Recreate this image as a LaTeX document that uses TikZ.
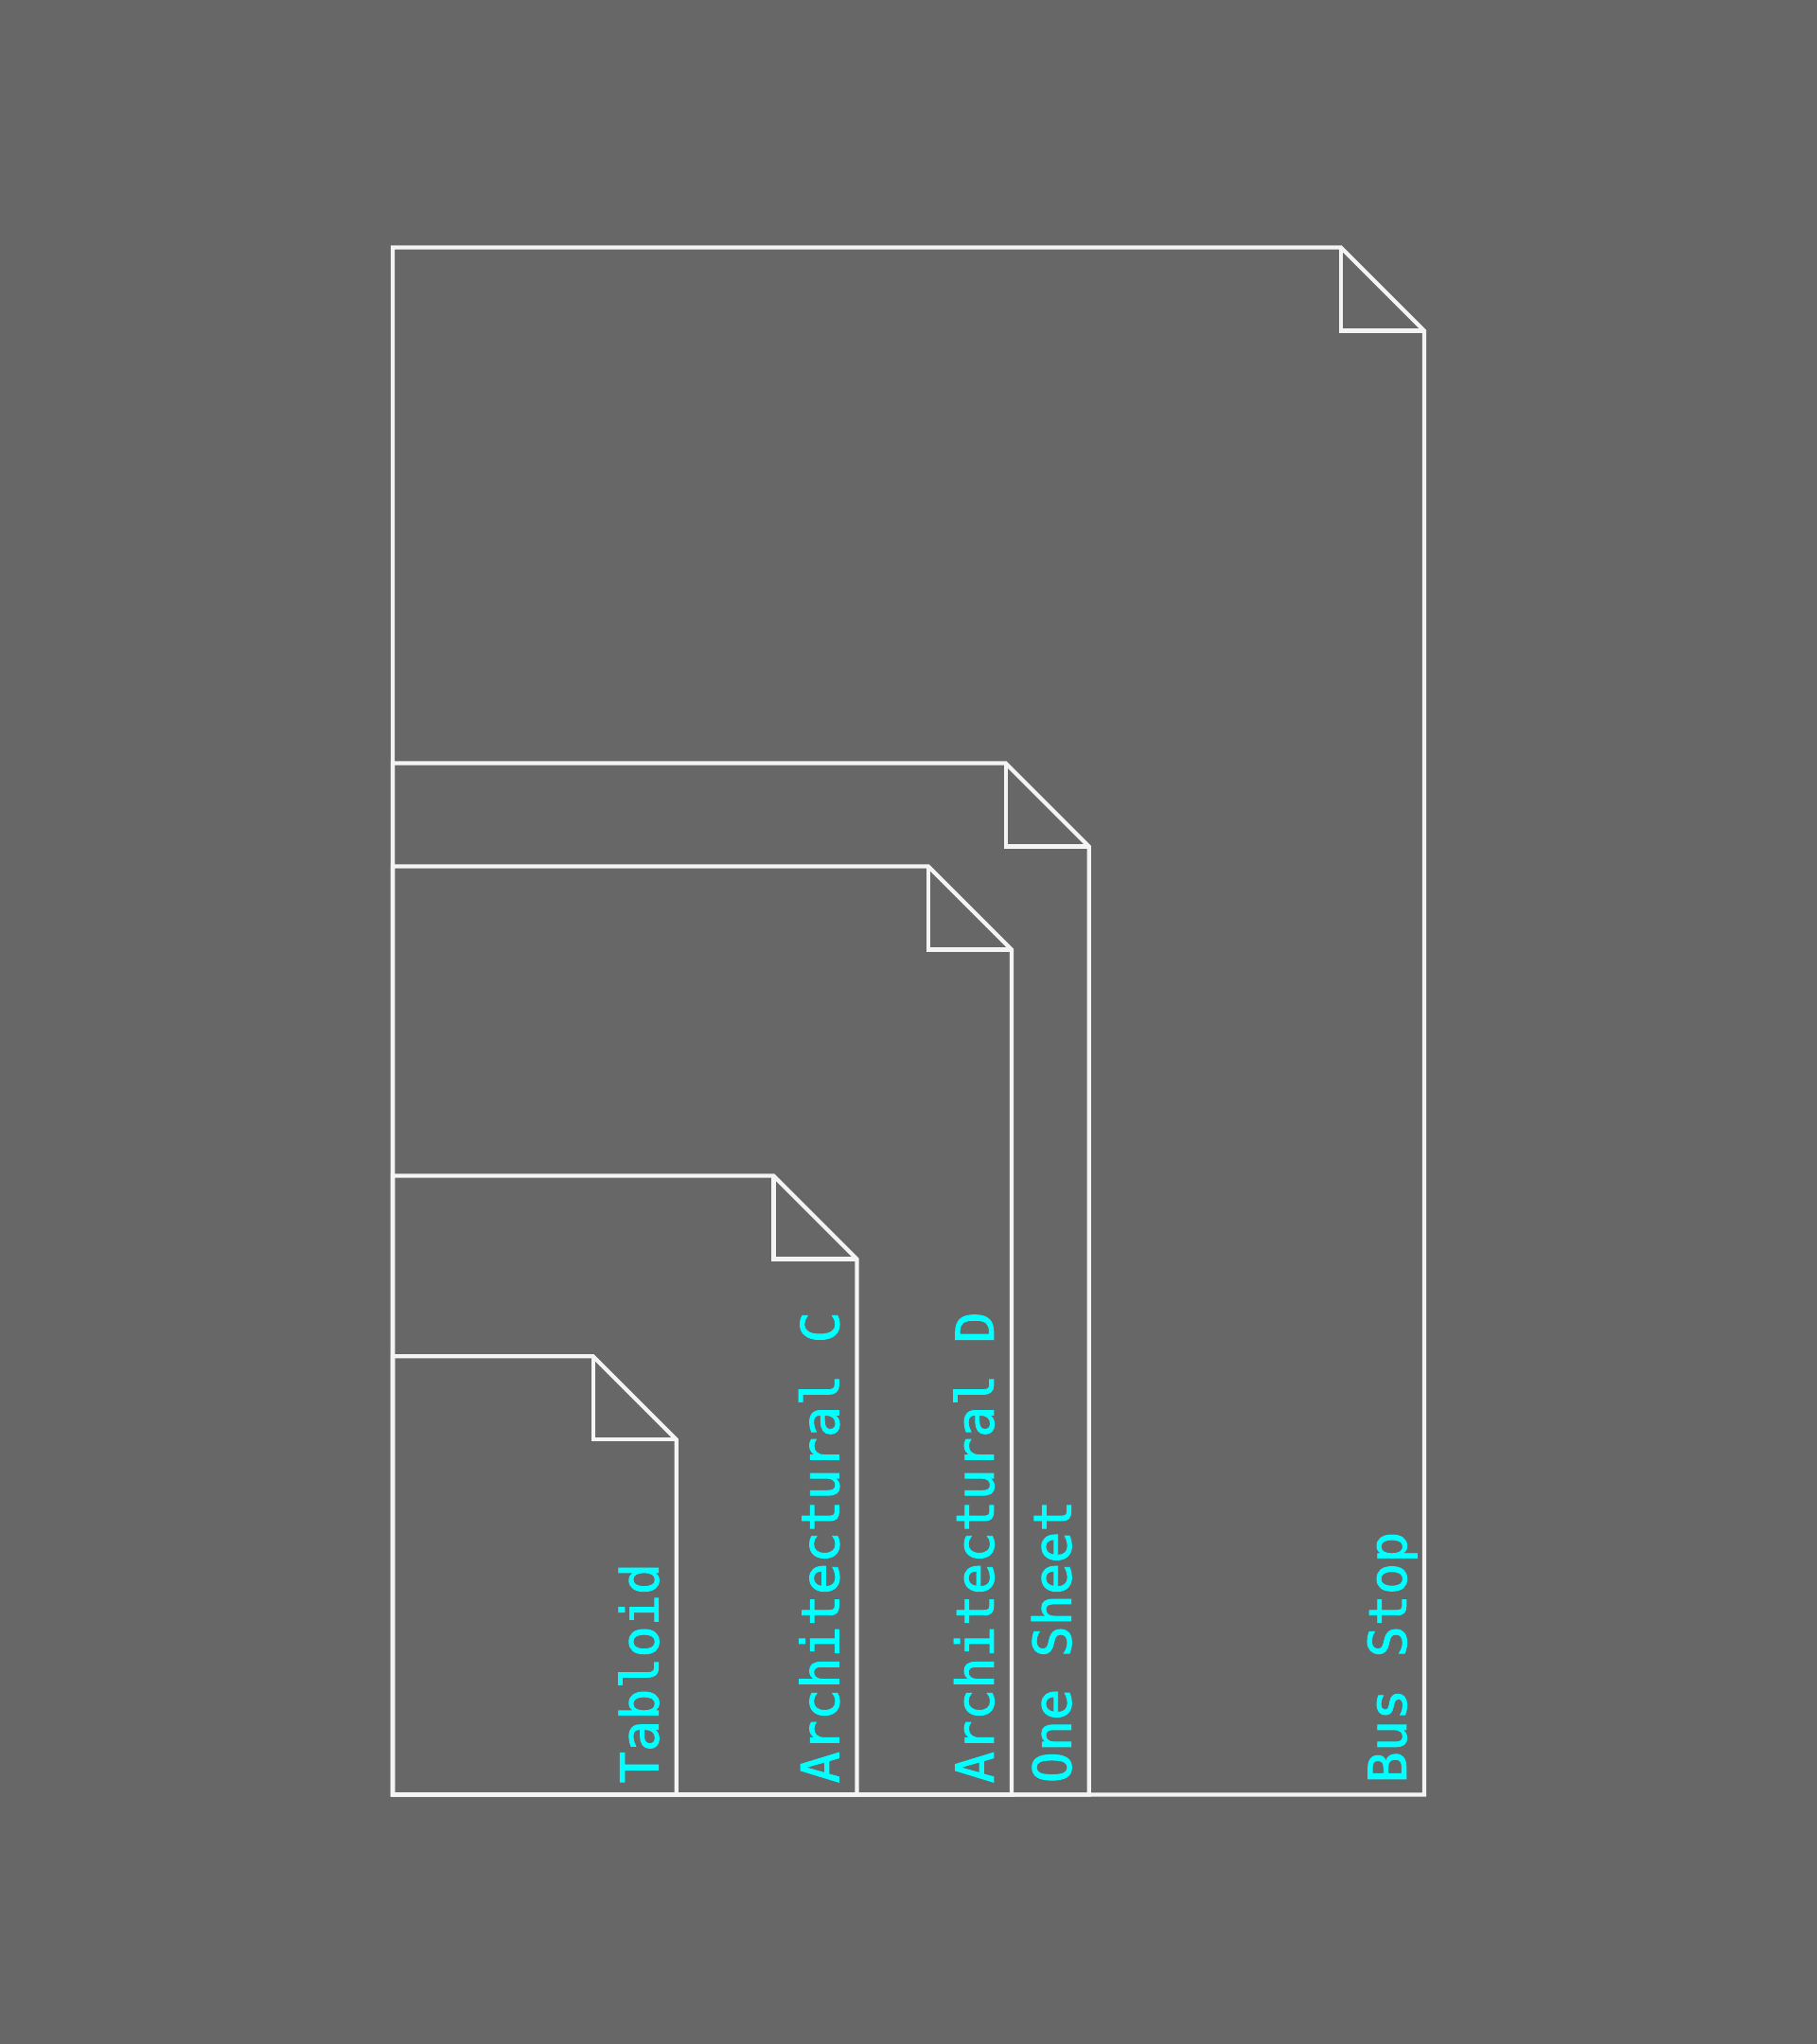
\documentclass[tikz,border=0pt]{standalone}
\usepackage{fontspec}
\usepackage{xcolor}
\usepackage{tikz}
\usetikzlibrary{calc}
\newfontfamily\labelmono[FakeBold=1.6]{DejaVu Sans Mono}
\definecolor{boardbg}{HTML}{676767}
\definecolor{sheetline}{HTML}{F4F4F4}
\definecolor{sizecyan}{HTML}{00FFFF}
\tikzset{
  sheetedge/.style={draw=sheetline, line width=1.2pt, line join=miter},
  sheetfold/.style={draw=sheetline, line width=1.2pt},
  sizelabel/.style={text=sizecyan, font=\labelmono\fontsize{15.7}{18}\selectfont,
    rotate=90, anchor=base west, inner sep=0pt}
}

\begin{document}
\begin{tikzpicture}[x=0.2725cm,y=0.2725cm]

  % background, 1 unit = 1 inch of paper
  \fill[boardbg] (-15.23,-9.67) rectangle (55.23,69.60);
  \useasboundingbox (-15.23,-9.67) rectangle (55.23,69.60);

  % bus stop 40 x 60
  \draw[sheetedge] (0,0) -- (0,60) -- (36.77,60) -- (40,56.77) -- (40,0) -- cycle;
  \draw[sheetfold] (36.77,60) -- (36.77,56.77) -- (40,56.77);
  \node[sizelabel] (busstop) at (39.30,0.42) {Bus Stop};

  % one sheet 27 x 40
  \draw[sheetedge] (0,0) -- (0,40) -- (23.77,40) -- (27,36.77) -- (27,0) -- cycle;
  \draw[sheetfold] (23.77,40) -- (23.77,36.77) -- (27,36.77);
  \node[sizelabel] (onesheet) at (26.30,0.42) {One Sheet};

  % architectural d 24 x 36
  \draw[sheetedge] (0,0) -- (0,36) -- (20.77,36) -- (24,32.77) -- (24,0) -- cycle;
  \draw[sheetfold] (20.77,36) -- (20.77,32.77) -- (24,32.77);
  \node[sizelabel] (archd) at (23.30,0.42) {Architectural D};

  % architectural c 18 x 24
  \draw[sheetedge] (0,0) -- (0,24) -- (14.77,24) -- (18,20.77) -- (18,0) -- cycle;
  \draw[sheetfold] (14.77,24) -- (14.77,20.77) -- (18,20.77);
  \node[sizelabel] (archc) at (17.30,0.42) {Architectural C};

  % tabloid 11 x 17
  \draw[sheetedge] (0,0) -- (0,17) -- (7.77,17) -- (11,13.77) -- (11,0) -- cycle;
  \draw[sheetfold] (7.77,17) -- (7.77,13.77) -- (11,13.77);
  \node[sizelabel] (tabloid) at (10.30,0.42) {Tabloid};

\end{tikzpicture}
\end{document}
